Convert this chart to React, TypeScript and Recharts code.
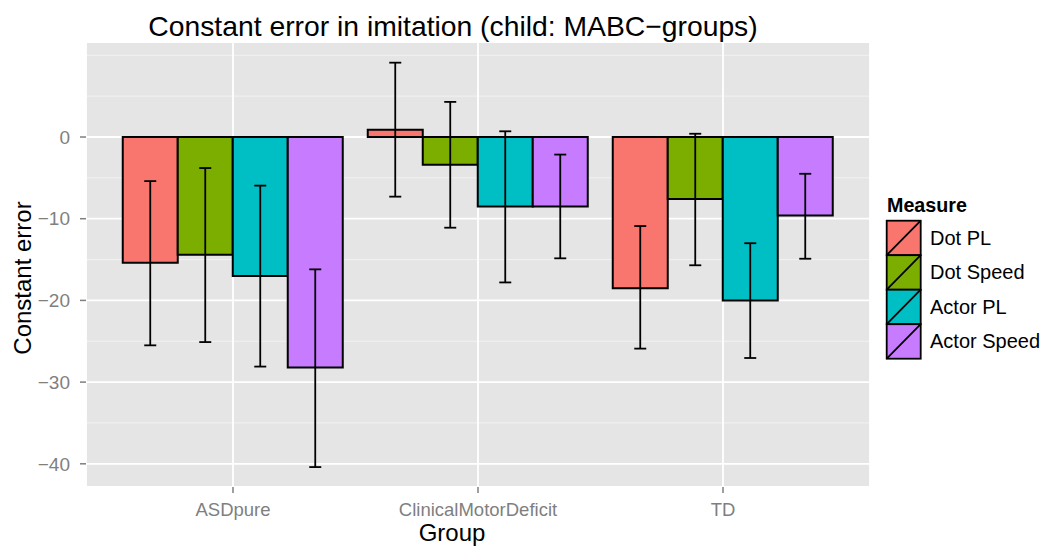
import { BarChart, Bar, XAxis, YAxis, CartesianGrid, ErrorBar, Legend } from 'recharts';

// groups on the x axis
const GROUPS = ['ASDpure', 'ClinicalMotorDeficit', 'TD'];

// mean constant error per group, with the error bar ends
const DOT_PL = [-15.4, 0.9, -18.5];
const DOT_PL_LOW = [-25.5, -7.3, -25.9];
const DOT_PL_HIGH = [-5.4, 9.1, -10.9];

const DOT_SPEED = [-14.4, -3.4, -7.6];
const DOT_SPEED_LOW = [-25.1, -11.1, -15.7];
const DOT_SPEED_HIGH = [-3.8, 4.3, 0.4];

const ACTOR_PL = [-17.0, -8.5, -20.0];
const ACTOR_PL_LOW = [-28.1, -17.8, -27.05];
const ACTOR_PL_HIGH = [-5.95, 0.7, -13.0];

const ACTOR_SPEED = [-28.2, -8.5, -9.6];
const ACTOR_SPEED_LOW = [-40.4, -14.85, -14.9];
const ACTOR_SPEED_HIGH = [-16.2, -2.15, -4.5];

const Y_TICKS = [-40, -30, -20, -10, 0];
const Y_MINOR = [-35, -25, -15, -5, 5, 10];
const Y_DOMAIN = [-42.84, 11.63];

const SERIES = [
    { key: 'dotPL', name: 'Dot PL', color: '#F8766D', values: DOT_PL, low: DOT_PL_LOW, high: DOT_PL_HIGH },
    { key: 'dotSpeed', name: 'Dot Speed', color: '#7CAE00', values: DOT_SPEED, low: DOT_SPEED_LOW, high: DOT_SPEED_HIGH },
    { key: 'actorPL', name: 'Actor PL', color: '#00BFC4', values: ACTOR_PL, low: ACTOR_PL_LOW, high: ACTOR_PL_HIGH },
    { key: 'actorSpeed', name: 'Actor Speed', color: '#C77CFF', values: ACTOR_SPEED, low: ACTOR_SPEED_LOW, high: ACTOR_SPEED_HIGH },
];

const FONT = '"Liberation Sans", Arial, Helvetica, sans-serif';
const GREY = '#7F7F7F';

const data = GROUPS.map((group, i) => {
    const row: any = { group };
    SERIES.forEach((s) => {
        const v = s.values[i];
        row[s.key] = v;
        row[s.key + 'Err'] = [v - s.low[i], s.high[i] - v];
    });
    return row;
});

const minus = (v: number) => String(v).replace('-', '\u2212');

const MeasureLegend = () => {
    const keyH = 34.5;
    return (
        <svg width={169} height={180} style={{ fontFamily: FONT, display: 'block' }}>
            <text x={7} y={22} fontSize={19.7} fontWeight="bold" fill="#000">
                Measure
            </text>
            {SERIES.map((s, i) => {
                const y = 30.7 + i * keyH;
                return (
                    <g key={s.key}>
                        <rect x={6.7} y={y} width={34} height={keyH} fill={s.color} stroke="#000" strokeWidth={1.8} />
                        <line x1={6.7} y1={y + keyH} x2={40.7} y2={y} stroke="#000" strokeWidth={1.8} />
                        <text x={50} y={y + keyH / 2} dominantBaseline="central" fontSize={20} fill="#000">
                            {s.name}
                        </text>
                    </g>
                );
            })}
        </svg>
    );
};

export default function App() {
    return (
        <div style={{ position: 'absolute', left: 0, top: 0, width: 1049, height: 546, background: '#fff', fontFamily: FONT }}>
            <BarChart
                width={1049}
                height={546}
                data={data}
                margin={{ top: 42, right: 179, bottom: 0, left: 0 }}
                barCategoryGap="5%"
                barGap={0}
            >
                <CartesianGrid
                    yAxisId="minor"
                    vertical={false}
                    fill="#E5E5E5"
                    fillOpacity={1}
                    stroke="#F2F2F2"
                    strokeWidth={1}
                />
                <CartesianGrid stroke="#FFFFFF" strokeWidth={1.8} />
                <XAxis
                    dataKey="group"
                    height={59}
                    padding={{ left: 24.5, right: 24.5 }}
                    axisLine={false}
                    tickSize={6}
                    tickMargin={10}
                    tickLine={{ stroke: GREY, strokeWidth: 1.5 }}
                    tick={{ fill: GREY, fontSize: 18.5 }}
                />
                <YAxis
                    width={86}
                    type="number"
                    domain={Y_DOMAIN}
                    allowDataOverflow
                    ticks={Y_TICKS}
                    tickFormatter={minus}
                    axisLine={false}
                    tickSize={6}
                    tickMargin={10}
                    tickLine={{ stroke: GREY, strokeWidth: 1.5 }}
                    tick={{ fill: GREY, fontSize: 19 }}
                />
                <YAxis yAxisId="minor" hide type="number" domain={Y_DOMAIN} allowDataOverflow ticks={Y_MINOR} />
                <Legend
                    layout="vertical"
                    align="center"
                    verticalAlign="middle"
                    content={() => <MeasureLegend />}
                    wrapperStyle={{ position: 'absolute', left: 880, top: 190, width: 169, height: 180 }}
                />
                {SERIES.map((s) => (
                    <Bar
                        key={s.key}
                        dataKey={s.key}
                        name={s.name}
                        fill={s.color}
                        stroke="#000"
                        strokeWidth={2}
                        isAnimationActive={false}
                    >
                        <ErrorBar dataKey={s.key + 'Err'} width={6} stroke="#000" strokeWidth={1.8} />
                    </Bar>
                ))}
            </BarChart>
            <svg
                width={1049}
                height={546}
                style={{ position: 'absolute', left: 0, top: 0, pointerEvents: 'none', fontFamily: FONT }}
            >
                <text x={453} y={36} textAnchor="middle" fontSize={28.3} fill="#000">
                    Constant error in imitation (child: MABC{'\u2212'}groups)
                </text>
                <text
                    x={22}
                    y={278}
                    textAnchor="middle"
                    dominantBaseline="central"
                    fontSize={24}
                    fill="#000"
                    transform="rotate(-90 22 278)"
                >
                    Constant error
                </text>
                <text x={452} y={541} textAnchor="middle" fontSize={24} fill="#000">
                    Group
                </text>
            </svg>
        </div>
    );
}
